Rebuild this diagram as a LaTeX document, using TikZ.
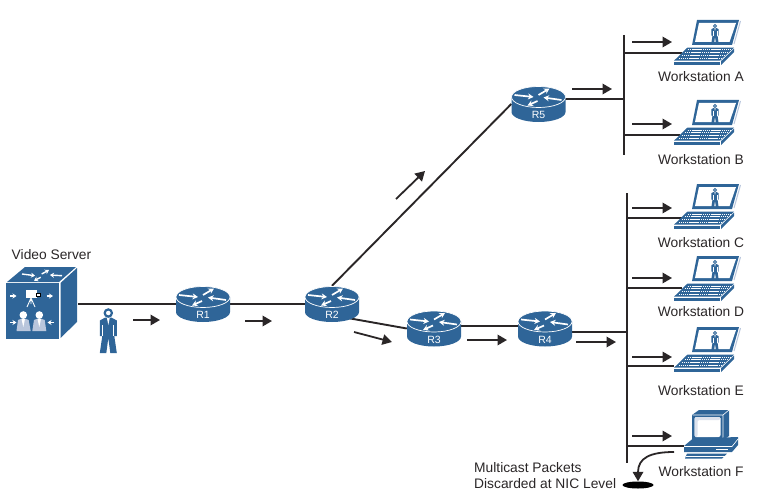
\documentclass[tikz,border=0pt]{standalone}
\usepackage{fontspec}
\setmainfont{Liberation Sans}
\usepackage{xcolor}
\usepackage{tikz}
\usetikzlibrary{arrows.meta,shapes.geometric,backgrounds}
\definecolor{iconblue}{HTML}{2F6598}
\definecolor{inkx}{HTML}{2A2627}
\definecolor{softbg}{HTML}{B9C6DC}
\tikzset{
  wire/.style={line width=1.9pt,draw=inkx},
  flowar/.style={-{Triangle[length=9.5pt,width=10.5pt]},line width=1.8pt,draw=inkx},
  wtar/.style={-{Stealth[length=5.5pt,width=6pt]},line width=1.7pt,white},
  smar/.style={-{Stealth[length=4pt,width=5pt]},line width=1.4pt,white},
  labl/.style={font=\fontsize{13.8}{16}\selectfont,text=inkx,inner sep=0pt,align=left},
  rlabl/.style={font=\fontsize{10.5}{12}\selectfont,text=white,inner sep=0pt},
  rnode/.style={ellipse,minimum width=54pt,minimum height=36pt,inner sep=0pt},
}
\newcommand{\persn}[3]{%
  \begin{scope}[shift={(#1,#2)},scale=#3]
  \fill[iconblue] (-3,4.5)--(3,4.5)--(8.5,7.5)--(8.5,23)--(6,23)--(8.5,40)--(2,40)--(0,25)--(-2,40)--(-8.5,40)--(-6,23)--(-8.5,23)--(-8.5,7.5)--cycle;
  \fill[white] (-1.5,4.5)--(1.5,4.5)--(0,12)--cycle;
  \draw[white,line width=#3*.8pt] (-5.5,12)--(-5.5,23) (5.5,12)--(5.5,23);
  \draw[iconblue,line width=#3*2.2pt,fill=white] (0,0) circle[radius=3.6];
  \end{scope}}
\newcommand{\rarrows}{%
  \draw[wtar] (-24,-9)--(-5,-7);
  \draw[wtar] (23,-4)--(5,-6.5);
  \draw[wtar] (0,-9)--(11,-15.5);
  \draw[wtar] (-1,-3)--(-11,1.5);}
\newcommand{\router}[4]{%
  \node[rnode] (#1) at (#2,#3) {};
  \begin{scope}[shift={(#2,#3)}]
  \fill[iconblue] (-27,-7)--(-27,8) arc[start angle=180,end angle=0,x radius=27,y radius=10]--(27,-7)--cycle;
  \draw[white,line width=.7pt,fill=iconblue] (0,-7) ellipse[x radius=27,y radius=10.5];
  \rarrows
  \node[rlabl] (#1t) at (0,11) {#4};
  \end{scope}}
\newcommand{\laptop}[2]{%
  \begin{scope}[shift={(#1,#2)}]
  \fill[iconblue] (15,-33)--(57,-33)--(50,-8)--(10,-8)--cycle;
  \fill[white] (17,-30)--(54,-30)--(47.5,-11)--(13,-11)--cycle;
  \draw[softbg,line width=1pt] (58.5,-32)--(52,-9);
  \persn{33}{-27}{0.42}
  \fill[iconblue] (5.3,-5.3)--(52,-5.3)--(38,7.7)--(-8,7.7)--cycle;
  \foreach \k in {-3.2,-.4,2.4,5.2}{\draw[white,line width=.6pt,dash pattern=on 1.4pt off .5pt] (3-1.03*\k-.6,\k)--(48-1.03*\k-2,\k);}
  \fill[iconblue] (-8,8.6)--(38,8.6)--(38,12)--(-8,12)--cycle;
  \fill[iconblue] (39,8.2)--(52,-4.3)--(52,-1)--(39,12)--cycle;
  \end{scope}}
\newcommand{\flow}[3]{%
  \coordinate (#1s) at (#2);
  \coordinate (#1e) at (#3);
  \draw[flowar] (#1s)--(#1e);}
\begin{document}
\begin{tikzpicture}[x=1pt,y=-1pt]
\useasboundingbox (0,0) rectangle (762,500);
%server
\node[minimum width=73pt,minimum height=72pt,inner sep=0pt] (srv) at (41.5,304) {};
\fill[iconblue] (6,283)--(59,283)--(59,339)--(6,339)--cycle;
\fill[iconblue] (7,282)--(25,267)--(76,267)--(59,282)--cycle;
\fill[iconblue] (60.5,283)--(77,268)--(77,322)--(60.5,338)--cycle;
\draw[smar] (22,274)--(35,275.7);
\draw[smar] (62,275.7)--(50,275);
\draw[smar] (41.7,274)--(49,270);
\draw[smar] (40.7,277.3)--(34,280.7);
\draw[smar] (10,296)--(16.5,296);
\draw[smar] (46.5,296)--(53,296);
\draw[smar] (10,322.5)--(16.5,322.5);
\draw[smar] (54,322.5)--(47.5,322.5);
\fill[white] (26,290) rectangle (36.7,298);
\draw[black,fill=white,line width=.8pt] (36.7,293) rectangle (40.5,296.7);
\draw[white,line width=.9pt] (27,307)--(31,298)--(35,307) (31,298)--(31,304);
\fill[softbg] (16.5,331)--(18,320)--(23.3,318)--(28.7,320)--(30.7,331)--cycle;
\fill[softbg] (32.3,331)--(34,320)--(39.3,318)--(44.7,320)--(46.3,331)--cycle;
\fill[white] (21.5,319)--(25,319)--(23.3,327)--cycle;
\fill[white] (37.5,319)--(41,319)--(39.3,327)--cycle;
\fill[white] (23.3,315) circle[radius=3.8] (39.3,315) circle[radius=3.8];
\node[labl] (srvt) at (51.5,254.7) {Video Server};
\persn{108.3}{313}{1}
%routers
\router{r1}{203}{304}{R1}
\router{r2}{332}{304}{R2}
\router{r3}{434}{328.5}{R3}
\router{r4}{545}{328.5}{R4}
\router{r5}{538.5}{104}{R5}
%workstations
\laptop{682}{53}
\laptop{682}{133}
\laptop{682}{217}
\laptop{682}{289}
\laptop{682}{360}
\coordinate (wsa) at (682,53);
\coordinate (wsb) at (680,135);
\coordinate (wsc) at (682,218);
\coordinate (wsd) at (682,288);
\coordinate (wse) at (674,366);
\coordinate (wsf) at (684,446);
%pc
\fill[iconblue] (692,415)--(699,410)--(729,410)--(729,436)--(723,440)--(692,440)--cycle;
\fill[white] (694.5,417)[rounded corners=2pt]--(720.5,417)--(720.5,437)--(694.5,437)--cycle;
\fill[softbg!50] (694.5,417)[rounded corners=2pt]--(720.5,417)--(720.5,420)--(697.5,420)--(697.5,437)--(694.5,437)--cycle;
\draw[white,line width=.6pt] (692.5,415)--(723,415)--(723,440) (723,415)--(729,410);
\fill[iconblue] (684,446)--(693,438.5)--(738,437)--(738,445)--(732,452)--(684,452)--cycle;
\draw[white,line width=.6pt] (684,446.5)--(732,446.5)--(738,439);
\draw[white,line width=.8pt] (716,449)--(728,449);
\fill[iconblue] (687,453.5)--(727,453.5)--(722,458.5)--(685,458.5)--cycle;
\draw[white,line width=.5pt] (686,456)--(725,456);
\node[ellipse,fill=black,minimum width=31pt,minimum height=7pt,inner sep=0pt] (nic) at (638,485) {};
\coordinate (dropa) at (674,452);
%labels
\node[labl] (lba) at (701,76.7) {Workstation A};
\node[labl] (lbb) at (701,159.7) {Workstation B};
\node[labl] (lbc) at (701,242.7) {Workstation C};
\node[labl] (lbd) at (701,311.7) {Workstation D};
\node[labl] (lbe) at (701,390.7) {Workstation E};
\node[labl] (lbf) at (701,471.7) {Workstation F};
\node[labl,anchor=west] (lbm) at (474,475.5) {Multicast Packets\\Discarded at NIC Level};
%bus
\coordinate (bta) at (624,35);
\coordinate (btb) at (624,155);
\coordinate (bua) at (627,193);
\coordinate (bub) at (627,463);
%wires
\begin{scope}[on background layer]
\draw[wire] (srv.east)--(r1.west);
\draw[wire] (r1.east)--(r2.west);
\draw[wire] (r2.-40)--(r3.west);
\draw[wire] (r2.north)--(r5.west);
\draw[wire] (r3.5)--(r4.175);
\draw[wire] (bta)--(btb);
\draw[wire] (bua)--(bub);
\draw[wire] (r5.10)--(bta|-r5.10);
\draw[wire] (r4.-8)--(bua|-r4.-8);
\draw[wire] (bta|-wsa)--(wsa);
\draw[wire] (bta|-wsb)--(wsb);
\draw[wire] (bua|-wsc)--(wsc);
\draw[wire] (bua|-wsd)--(wsd);
\draw[wire] (bua|-wse)--(wse);
\draw[wire] (bua|-wsf)--(wsf);
\end{scope}
\draw[flowar] (dropa) .. controls (650,452) and (638,458) .. (nic.north);
%flow
\flow{fa}{133,320}{160,320}
\flow{fb}{245,321}{272,321}
\flow{fc}{354,332}{392,342}
\flow{fd}{396,199}{425,171}
\flow{fe}{467,340}{507,340}
\flow{ff}{576,342}{616,342}
\flow{fg}{572,89}{612,89}
\flow{fh}{632,42}{672,42}
\flow{fi}{632,124}{672,124}
\flow{fj}{632,208}{672,208}
\flow{fk}{632,278}{672,278}
\flow{fl}{632,357}{672,357}
\flow{fm}{632,436}{672,436}
\end{tikzpicture}
\end{document}
